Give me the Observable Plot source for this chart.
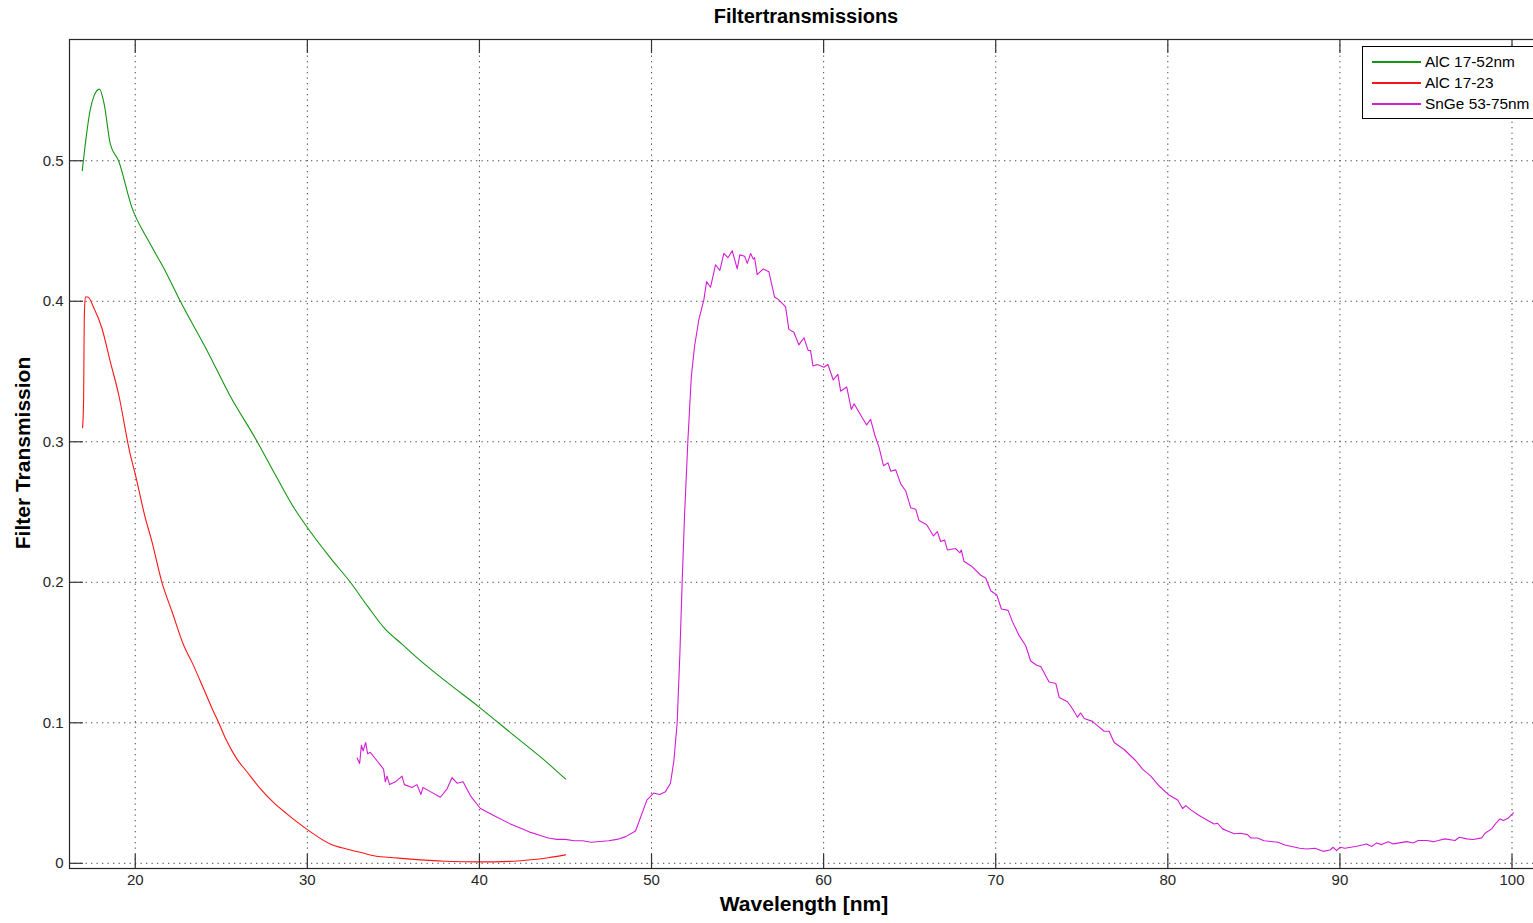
<!DOCTYPE html>
<html><head><meta charset="utf-8">
<script src="https://cdn.jsdelivr.net/npm/d3@7"></script>
<script src="https://cdn.jsdelivr.net/npm/@observablehq/plot@0.6"></script>
<style>
body{margin:0;background:#fff;font-family:"Liberation Sans",Arial,sans-serif;overflow:hidden}
#wrap{position:relative;width:1533px;height:923px;overflow:hidden}
#chart{position:absolute;left:0;top:0;width:1543px;height:923px}
#chart svg{max-width:none !important}
.t{position:absolute;color:#000;font-weight:bold;white-space:nowrap}
#title{left:806px;top:5px;transform:translateX(-50%);font-size:20px}
#xlab{left:804px;top:892px;transform:translateX(-50%);font-size:21px}
#ylab{left:23px;top:453px;transform:translate(-50%,-50%) rotate(-90deg);font-size:21px}
#legend{position:absolute;left:1362px;top:46px;width:190px;height:71px;border:1px solid #000;background:#fff;font-size:15.4px;color:#000}
.row{position:absolute;left:9px;height:20px;display:flex;align-items:center}
.sw{display:inline-block;width:49px;height:1.5px;margin-right:4px}
</style></head>
<body>
<div id="wrap">
  <div id="chart"></div>
  <div id="title" class="t">Filtertransmissions</div>
  <div id="xlab" class="t">Wavelength [nm]</div>
  <div id="ylab" class="t">Filter Transmission</div>
  <div id="legend"></div>
</div>
<script>
// Series names and colours
const seriesNames = ["AlC 17-52nm", "AlC 17-23", "SnGe 53-75nm"];
const seriesColors = ["#139613", "#ff1414", "#d41cd4"];

// Tick values
const xTicks = [20, 30, 40, 50, 60, 70, 80, 90, 100];
const yTicks = [0, 0.1, 0.2, 0.3, 0.4, 0.5];

// AlC 17-52nm (green)
const alc52X = [16.92,17.1,17.38,17.6,17.92,18.2,18.55,19.03,19.8,20.77,21.64,22.62,24.17,25.5,27,28.25,29.22,30,31.36,32.5,33.5,34.5,35.5,36.5,38,40,42,44,45];
const alc52Y = [0.493,0.512,0.536,0.546,0.551,0.540,0.512,0.500,0.467,0.443,0.424,0.400,0.365,0.333,0.302,0.274,0.253,0.239,0.217,0.200,0.183,0.167,0.156,0.145,0.130,0.111,0.091,0.071,0.060];

// AlC 17-23 (red)
const alc23X = [16.94,17.0,17.02,17.04,17.1,17.25,17.57,18.06,18.55,19.03,19.71,20.0,20.58,20.97,21.55,22.14,22.82,23.30,23.98,24.47,24.85,25.24,25.92,26.5,27.28,28.06,28.83,30,31.36,32,33,34,35,36,38,40,42,43,44,45];
const alc23Y = [0.310,0.330,0.361,0.389,0.403,0.403,0.396,0.381,0.357,0.334,0.291,0.277,0.246,0.229,0.200,0.179,0.155,0.143,0.124,0.110,0.100,0.089,0.074,0.065,0.053,0.043,0.035,0.024,0.0136,0.011,0.008,0.005,0.004,0.003,0.0015,0.001,0.0015,0.0025,0.004,0.006];

// SnGe 53-75nm (magenta)
const sngeX = [32.89,33.04,33.14,33.24,33.39,33.50,33.66,34.05,34.43,34.53,34.63,34.78,35.12,35.50,35.64,36.08,36.37,36.60,36.72,37.15,37.73,38.12,38.41,38.70,39.05,39.48,40.06,40.83,41.80,42.58,42.97,43.5,44.0,44.5,45.0,45.5,46.0,46.5,47.0,47.5,48.0,48.5,49.07,49.73,50.12,50.47,50.81,51.10,51.30,51.49,51.65,51.78,51.92,52.11,52.31,52.50,52.75,53.04,53.20,53.43,53.72,53.97,54.20,54.44,54.69,54.98,55.13,55.41,55.56,55.76,55.91,55.99,56.14,56.49,56.82,57.15,57.40,57.79,57.98,58.27,58.56,58.86,59.10,59.24,59.38,59.63,60.02,60.25,60.56,60.83,60.99,61.34,61.61,61.77,62.15,62.50,62.73,62.97,63.22,63.48,63.74,63.90,64.19,64.48,64.77,65.06,65.35,65.54,65.99,66.38,66.61,66.80,67.03,67.19,67.67,67.92,68.00,68.15,68.64,69.13,69.42,69.71,70.06,70.33,70.72,70.97,71.36,71.74,72.03,72.38,72.62,73.10,73.49,73.69,74.17,74.46,74.75,74.94,75.14,75.62,75.91,76.30,76.59,76.88,77.46,78.14,78.53,79.01,79.50,80.02,80.57,80.86,81.05,81.34,81.82,82.40,82.69,82.89,83.18,83.47,83.86,84.24,84.63,84.83,85.2,85.6,86.0,86.4,86.8,87.2,87.67,88.06,88.55,89.03,89.42,89.61,89.81,90.00,90.29,90.97,91.55,91.84,92.13,92.42,92.81,93.10,93.88,94.26,94.55,95.04,95.43,95.72,96.10,96.69,96.94,97.37,97.75,98.24,98.43,98.82,99.11,99.30,99.50,99.79,100.08];
const sngeY = [0.075,0.071,0.084,0.080,0.086,0.078,0.079,0.073,0.067,0.058,0.062,0.056,0.058,0.062,0.056,0.054,0.056,0.049,0.054,0.051,0.047,0.053,0.061,0.057,0.058,0.048,0.039,0.034,0.028,0.024,0.022,0.020,0.018,0.017,0.017,0.016,0.016,0.015,0.0155,0.016,0.017,0.019,0.023,0.045,0.050,0.049,0.051,0.057,0.073,0.100,0.150,0.200,0.248,0.300,0.346,0.368,0.387,0.401,0.414,0.410,0.426,0.422,0.434,0.431,0.436,0.423,0.433,0.432,0.427,0.434,0.430,0.431,0.419,0.423,0.421,0.403,0.401,0.396,0.380,0.378,0.369,0.374,0.365,0.365,0.354,0.355,0.353,0.355,0.344,0.348,0.336,0.339,0.323,0.327,0.319,0.312,0.316,0.305,0.296,0.283,0.285,0.279,0.280,0.270,0.265,0.253,0.252,0.244,0.241,0.233,0.236,0.229,0.230,0.223,0.224,0.221,0.223,0.215,0.211,0.205,0.203,0.194,0.191,0.181,0.180,0.172,0.162,0.155,0.144,0.141,0.140,0.129,0.128,0.118,0.115,0.110,0.104,0.107,0.103,0.101,0.098,0.094,0.094,0.086,0.081,0.073,0.067,0.062,0.055,0.049,0.045,0.039,0.041,0.038,0.034,0.030,0.028,0.0285,0.0245,0.023,0.021,0.0214,0.0204,0.018,0.018,0.016,0.0155,0.015,0.013,0.012,0.0107,0.0102,0.0107,0.0085,0.0095,0.0114,0.009,0.0114,0.0107,0.0121,0.0138,0.0119,0.0145,0.0133,0.0154,0.0138,0.0154,0.0145,0.0162,0.0162,0.0154,0.0162,0.0174,0.0162,0.0185,0.0174,0.0169,0.0181,0.0214,0.0245,0.0292,0.0316,0.0304,0.0323,0.0359];

const toRows = (xs, ys) => xs.map((x, i) => ({x, y: ys[i]}));

const W = 1543, H = 923, mT = 39, mB = 55, mL = 69, mR = 0;
const fh = H - mT - mB, fw = W - mL - mR, tl = 14;

const chart = Plot.plot({
  width: W, height: H,
  marginTop: mT, marginBottom: mB, marginLeft: mL, marginRight: mR,
  x: {domain: [16.18, 101.83]},
  y: {domain: [-0.0037, 0.5863]},
  style: {fontFamily: "'Liberation Sans', Arial, sans-serif", fontSize: "15px", color: "#262626", background: "#fff"},
  marks: [
    Plot.ruleX(xTicks, {stroke: "#333", strokeOpacity: 0.9, strokeDasharray: "1.3,4.2"}),
    Plot.ruleY(yTicks, {stroke: "#333", strokeOpacity: 0.9, strokeDasharray: "1.3,4.2"}),
    Plot.line(toRows(alc52X, alc52Y), {x: "x", y: "y", stroke: seriesColors[0], strokeWidth: 1.1, curve: "monotone-x"}),
    Plot.line(toRows(alc23X, alc23Y), {x: "x", y: "y", stroke: seriesColors[1], strokeWidth: 1.1, curve: "monotone-x"}),
    Plot.line(toRows(sngeX, sngeY), {x: "x", y: "y", stroke: seriesColors[2], strokeWidth: 1.1}),
    Plot.ruleX(xTicks, {stroke: "#333", strokeWidth: 1.2, insetTop: fh - tl}),
    Plot.ruleX(xTicks, {stroke: "#333", strokeWidth: 1.2, insetBottom: fh - tl}),
    Plot.ruleY(yTicks, {stroke: "#333", strokeWidth: 1.2, insetRight: fw - tl}),
    Plot.frame({stroke: "#262626", strokeWidth: 1.2}),
    Plot.axisX(xTicks, {tickSize: 0, tickPadding: 6, label: null, fontSize: 15}),
    Plot.axisY(yTicks, {tickSize: 0, tickPadding: 6, label: null, fontSize: 15, tickFormat: d => String(d)})
  ]
});
chart.style.maxWidth = "none";
document.getElementById("chart").appendChild(chart);

const leg = document.getElementById("legend");
const rowTops = [5, 26, 47];
seriesNames.forEach((n, i) => {
  const r = document.createElement("div");
  r.className = "row";
  r.style.top = rowTops[i] + "px";
  const sw = document.createElement("span");
  sw.className = "sw";
  sw.style.background = seriesColors[i];
  const tx = document.createElement("span");
  tx.textContent = n;
  r.appendChild(sw); r.appendChild(tx);
  leg.appendChild(r);
});
</script>
</body></html>
